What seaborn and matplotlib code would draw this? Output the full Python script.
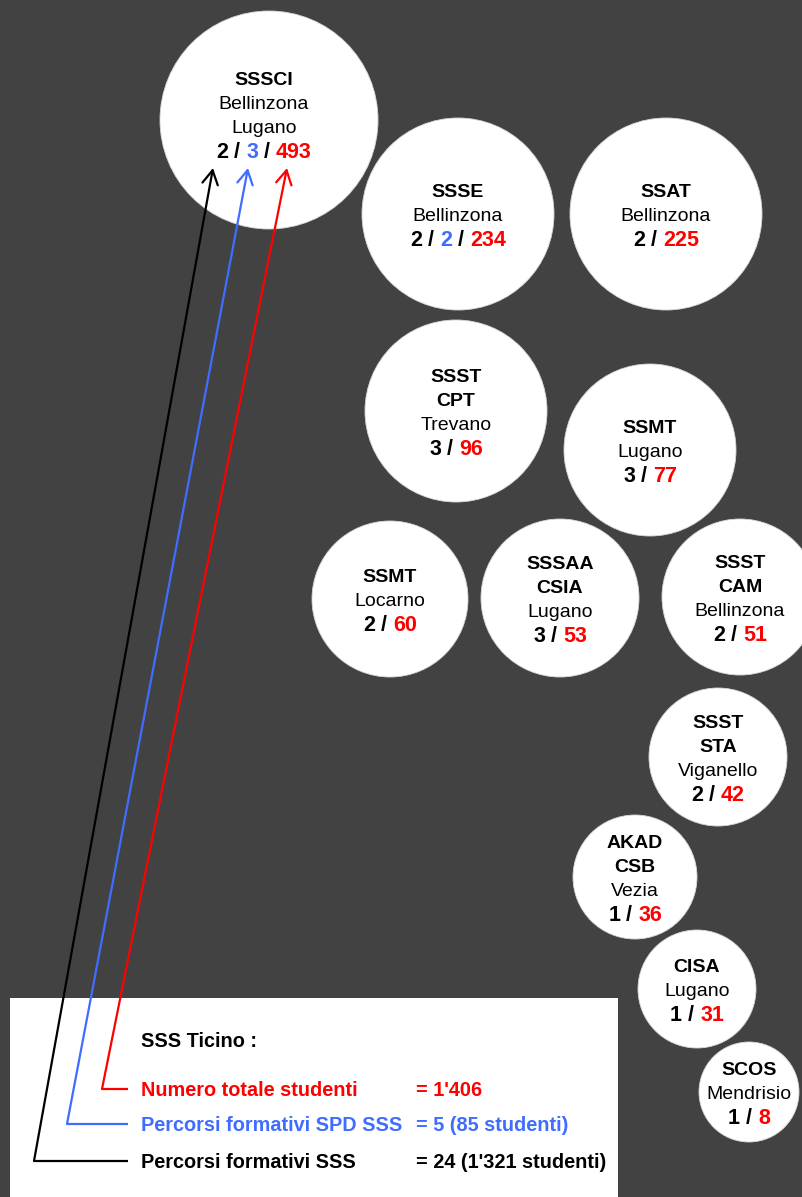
import matplotlib.pyplot as plt
from matplotlib.patches import Rectangle
import numpy as np
import pandas as pd
import seaborn as sns

# ---- dati ----
scuole = ['SSSCI', 'SSSE', 'SSAT', 'SSST\nCPT', 'SSMT', 'SSMT', 'SSSAA\nCSIA',
          'SSST\nCAM', 'SSST\nSTA', 'AKAD\nCSB', 'CISA', 'SCOS']
sedi = ['Bellinzona\nLugano', 'Bellinzona', 'Bellinzona', 'Trevano', 'Lugano', 'Locarno',
        'Lugano', 'Bellinzona', 'Viganello', 'Vezia', 'Lugano', 'Mendrisio']
percorsi_sss = [2, 2, 2, 3, 3, 2, 3, 2, 2, 1, 1, 1]
percorsi_spd = [3, 2, 0, 0, 0, 0, 0, 0, 0, 0, 0, 0]  # 0 = nessun percorso SPD
studenti = [493, 234, 225, 96, 77, 60, 53, 51, 42, 36, 31, 8]

legenda_titolo = 'SSS Ticino :'
legenda_voci = ['Numero totale studenti', 'Percorsi formativi SPD SSS', 'Percorsi formativi SSS']
legenda_valori = ["= 1'406", '= 5 (85 studenti)', "= 24 (1'321 studenti)"]

# ---- layout (in pixel) ----
cx = [269, 458, 666, 456, 650, 390, 560, 740, 718, 635, 697, 749]
cy = [120, 214, 214, 411, 450, 599, 598, 597, 757, 877, 989, 1092]
raggio = [109, 96, 96, 91, 86, 78, 79, 78, 69, 62, 59, 50]

BG = '#424242'
RED = '#ff0000'
BLUE = '#3f6dff'
FS = 14       # nomi e sedi
FS_NUM = 15.5  # riga dei numeri
FS_LEG = 14.3
LINE = 24

W, H, DPI = 802, 1197, 100

sns.set_theme(style='white')
plt.rcParams['font.family'] = ['Liberation Sans', 'DejaVu Sans']

fig = plt.figure(figsize=(W / DPI, H / DPI), dpi=DPI, facecolor=BG)
ax = fig.add_axes([0, 0, 1, 1])
ax.axis('off')

# cerchi: area del marker in punti^2 dal raggio in pixel
df = pd.DataFrame({'x': cx, 'y': cy, 'area': (2 * np.array(raggio) * 72 / DPI) ** 2})
amin, amax = df['area'].min(), df['area'].max()
sns.scatterplot(data=df, x='x', y='y', size='area', sizes=(amin, amax), size_norm=(amin, amax),
                color='white', edgecolor='#d8d8d8', linewidth=0.6, legend=False, ax=ax, zorder=2)
ax.set_xlim(0, W)
ax.set_ylim(H, 0)

renderer = fig.canvas.get_renderer()


def larghezza(s, weight, fs):
    t = ax.text(0, 0, s, fontsize=fs, fontweight=weight)
    w = t.get_window_extent(renderer).width
    t.remove()
    return w


def riga_colorata(xc, yc, parti, weight='bold', fs=FS_NUM):
    """Scrive una riga centrata in xc fatta di pezzi di colori diversi separati da spazi"""
    sp = larghezza('n n', weight, fs) - larghezza('nn', weight, fs)
    ws = [larghezza(p, weight, fs) for p, _ in parti]
    tot = sum(ws) + sp * (len(parti) - 1)
    x = xc - tot / 2
    for (p, c), w in zip(parti, ws):
        ax.text(x, yc + 8, p, fontsize=fs, fontweight=weight, color=c, ha='left', va='baseline', zorder=5)
        x += w + sp


# testi nei cerchi
tx = list(cx)
ty = list(cy)
tx[0], ty[0] = 264, 114  # SSSCI un po' spostato

for i in range(len(scuole)):
    righe = [(r, 'bold') for r in scuole[i].split('\n')] + [(r, 'normal') for r in sedi[i].split('\n')]
    n = len(righe) + 1
    for j, (r, wgt) in enumerate(righe):
        yl = ty[i] + (j - (n - 1) / 2) * LINE
        ax.text(tx[i], yl + 7, r, fontsize=FS, fontweight=wgt, color='black', ha='center', va='baseline', zorder=5)
    parti = [(str(percorsi_sss[i]), 'black'), ('/', 'black')]
    if percorsi_spd[i]:
        parti += [(str(percorsi_spd[i]), BLUE), ('/', 'black')]
    parti += [(str(studenti[i]), RED)]
    riga_colorata(tx[i], ty[i] + (n - 1) / 2 * LINE, parti)

# riquadro legenda
ax.add_patch(Rectangle((10, 998), 608, 220, facecolor='white', edgecolor='none', zorder=3))
ax.text(141, 1040 + 7, legenda_titolo, fontsize=FS_LEG, fontweight='bold', color='black', va='baseline', zorder=5)

righe_y = [1089, 1124, 1161]
colori = [RED, BLUE, 'black']
for voce, val, yy, c in zip(legenda_voci, legenda_valori, righe_y, colori):
    ax.text(141, yy + 7, voce, fontsize=FS_LEG, fontweight='bold', color=c, va='baseline', zorder=5)
    ax.text(416, yy + 7, val, fontsize=FS_LEG, fontweight='bold', color=c, va='baseline', zorder=5)

# frecce dalla legenda verso SSSCI
angoli_x = [102, 67, 34]
punte_x = [287, 248, 213]
for ax0, px, yy, c in zip(angoli_x, punte_x, righe_y, colori):
    ax.plot([128, ax0], [yy, yy], color=c, lw=1.6, zorder=4, solid_capstyle='butt')
    ax.annotate('', xy=(px, 168), xytext=(ax0, yy),
                arrowprops=dict(arrowstyle='->,head_length=0.5,head_width=0.28', color=c, lw=1.6,
                                shrinkA=0, shrinkB=0, mutation_scale=20), zorder=4)

plt.savefig('out.png', dpi=DPI, facecolor=BG)
